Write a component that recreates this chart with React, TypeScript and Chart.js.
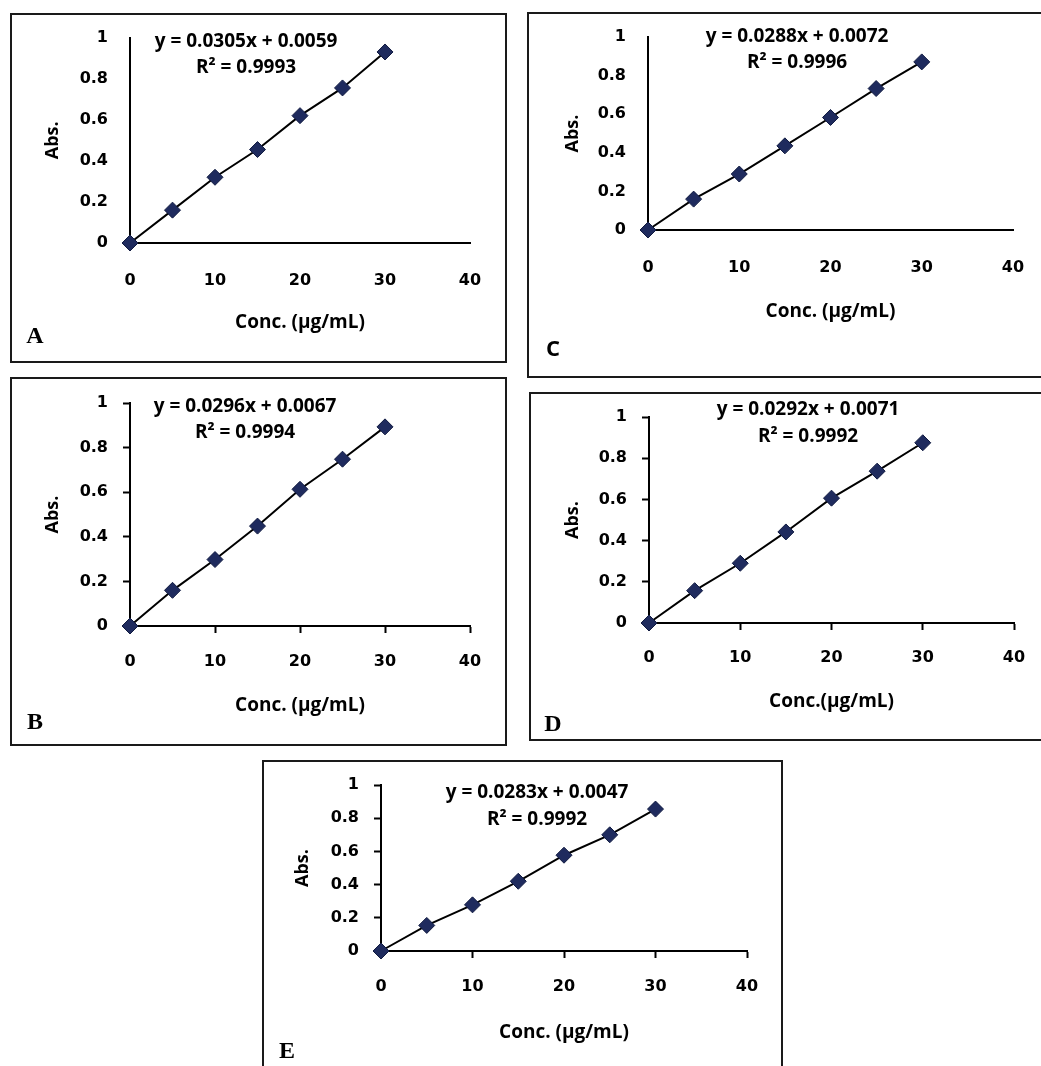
import React, { useEffect, useRef } from 'react';
import { Chart, registerables } from 'chart.js';

Chart.register(...registerables);

// ---------- data ----------
const concentrations = [0, 5, 10, 15, 20, 25, 30];
const absA = [0, 0.16, 0.32, 0.455, 0.62, 0.755, 0.93];
const absB = [0, 0.16, 0.298, 0.448, 0.613, 0.748, 0.893];
const absC = [0, 0.16, 0.29, 0.436, 0.583, 0.733, 0.871];
const absD = [0, 0.157, 0.29, 0.442, 0.606, 0.737, 0.875];
const absE = [0, 0.154, 0.278, 0.42, 0.577, 0.7, 0.855];

const panelLetters = ['A', 'B', 'C', 'D', 'E'];
const equations = [
  'y = 0.0305x + 0.0059',
  'y = 0.0296x + 0.0067',
  'y = 0.0288x + 0.0072',
  'y = 0.0292x + 0.0071',
  'y = 0.0283x + 0.0047',
];
const r2Labels = ['R² = 0.9993', 'R² = 0.9994', 'R² = 0.9996', 'R² = 0.9992', 'R² = 0.9992'];
const xTitle = 'Conc. (µg/mL)';
const xTitleD = 'Conc.(µg/mL)';
const yTitle = 'Abs.';
const xMin = 0, xMax = 40, xStep = 10;
const yMin = 0, yMax = 1, yStep = 0.2;

const FONT = '"Open Sans", "Noto Sans", sans-serif';
const TICK_FONT = '"DejaVu Sans", sans-serif';

type Layout = {
  left: number; top: number; width: number; height: number;
  aL: number; aT: number; aR: number; aB: number;
  xLabelGap: number; xTitleFromBottom: number; yTitleX: number;
  eqX: number; eqY: number; r2Y: number;
  letterX: number; letterY: number; letterSerif: boolean; ticks: boolean;
};

// page geometry of each panel (frame box and plot area, canvas-relative)
const layouts: Layout[] = [
  { left: 10, top: 13, width: 497, height: 350, aL: 120, aT: 24, aR: 460, aB: 230,
    xLabelGap: 38, xTitleFromBottom: 40, yTitleX: 43, eqX: 236, eqY: 29, r2Y: 55,
    letterX: 25, letterY: 324, letterSerif: true, ticks: false },
  { left: 10, top: 377, width: 497, height: 369, aL: 120, aT: 26, aR: 460, aB: 249,
    xLabelGap: 36, xTitleFromBottom: 40, yTitleX: 43, eqX: 235, eqY: 30, r2Y: 56,
    letterX: 25, letterY: 346, letterSerif: true, ticks: true },
  { left: 527, top: 12, width: 519, height: 366, aL: 121, aT: 25, aR: 486, aB: 218,
    xLabelGap: 38, xTitleFromBottom: 66, yTitleX: 46, eqX: 270, eqY: 25, r2Y: 51,
    letterX: 26, letterY: 338, letterSerif: false, ticks: false },
  { left: 529, top: 392, width: 517, height: 349, aL: 120, aT: 25, aR: 485, aB: 231,
    xLabelGap: 35, xTitleFromBottom: 39, yTitleX: 44, eqX: 279, eqY: 18, r2Y: 45,
    letterX: 24, letterY: 333, letterSerif: true, ticks: true },
  { left: 262, top: 760, width: 521, height: 315, aL: 119, aT: 25, aR: 485, aB: 191,
    xLabelGap: 36, xTitleFromBottom: 42, yTitleX: 41, eqX: 275, eqY: 33, r2Y: 60,
    letterX: 25, letterY: 292, letterSerif: true, ticks: true },
];

const seriesList = [absA, absB, absC, absD, absE];

function Panel({ idx }: { idx: number }) {
  const ref = useRef<HTMLCanvasElement | null>(null);
  useEffect(() => {
    const L = layouts[idx];
    const values = seriesList[idx];
    const tickFont = 16;
    const titleFont = 19;
    const titleLH = titleFont * 1.2;
    const tickLH = tickFont * 1.2;
    const tickLen = 7;
    const tickColor = L.ticks ? '#000' : 'rgba(0,0,0,0)';
    const decor = {
      id: 'decor',
      afterDraw(chart: any) {
        const ctx = chart.ctx;
        ctx.save();
        ctx.strokeStyle = '#1a1a1a';
        ctx.lineWidth = 2;
        ctx.strokeRect(1, 1, chart.width - 2, chart.height - 2);
        ctx.fillStyle = '#000';
        ctx.textAlign = 'center';
        ctx.textBaseline = 'middle';
        ctx.font = `bold 19px ${FONT}`;
        ctx.fillText(equations[idx], L.eqX, L.eqY);
        ctx.fillText(r2Labels[idx], L.eqX, L.r2Y);
        ctx.font = L.letterSerif ? 'bold 24px "Liberation Serif", serif' : `bold 22px ${FONT}`;
        ctx.fillText(panelLetters[idx], L.letterX, L.letterY);
        ctx.restore();
      },
    };
    const chart = new Chart(ref.current as HTMLCanvasElement, {
      type: 'scatter',
      data: {
        datasets: [
          {
            data: concentrations.map((x, i) => ({ x, y: values[i] })),
            showLine: true,
            borderColor: '#000',
            borderWidth: 2,
            pointStyle: 'rectRot',
            pointRadius: 8,
            pointBackgroundColor: '#1f2b5e',
            pointBorderColor: '#101a40',
            pointBorderWidth: 1,
            clip: false,
          } as any,
        ],
      },
      options: {
        animation: false,
        responsive: false,
        events: [],
        layout: { padding: { left: 0, top: L.aT, right: L.width - L.aR, bottom: 0 } },
        plugins: { legend: { display: false }, tooltip: { enabled: false } },
        scales: {
          x: {
            type: 'linear',
            min: xMin,
            max: xMax,
            afterFit: (s: any) => { s.height = L.height - L.aB; },
            ticks: {
              stepSize: xStep,
              autoSkip: false,
              maxRotation: 0,
              color: '#000',
              font: { family: TICK_FONT, size: tickFont, weight: 'bold' },
              padding: L.xLabelGap - tickLen - tickLH / 2,
            },
            grid: { display: true, drawOnChartArea: false, drawTicks: true, tickLength: tickLen, tickColor, tickWidth: 2, color: tickColor },
            border: { display: true, color: '#000', width: 2 },
            title: {
              display: true,
              text: idx === 3 ? xTitleD : xTitle,
              color: '#000',
              font: { family: FONT, size: titleFont, weight: 'bold' },
              padding: { top: 0, bottom: L.xTitleFromBottom - titleLH / 2 },
            },
          },
          y: {
            type: 'linear',
            min: yMin,
            max: yMax,
            afterFit: (s: any) => { s.width = L.aL; },
            ticks: {
              stepSize: yStep,
              color: '#000',
              font: { family: TICK_FONT, size: tickFont, weight: 'bold' },
              padding: 15,
              callback: (v: any) => String(Math.round(Number(v) * 10) / 10),
            },
            grid: { display: true, drawOnChartArea: false, drawTicks: true, tickLength: tickLen, tickColor, tickWidth: 2, color: tickColor },
            border: { display: true, color: '#000', width: 2 },
            title: {
              display: true,
              text: yTitle,
              color: '#000',
              font: { family: FONT, size: 18, weight: 'bold' },
              padding: { top: L.yTitleX - 18 * 1.2 / 2, bottom: 0 },
            },
          },
        },
      } as any,
      plugins: [decor],
    });
    return () => chart.destroy();
  }, [idx]);
  const L = layouts[idx];
  return (
    <canvas
      ref={ref}
      width={L.width}
      height={L.height}
      style={{ position: 'absolute', left: L.left, top: L.top, width: L.width, height: L.height }}
    />
  );
}

export default function App() {
  return (
    <div
      style={{
        position: 'absolute',
        left: 0,
        top: 0,
        width: 1041,
        height: 1066,
        overflow: 'hidden',
        background: '#fff',
      }}
    >
      {layouts.map((_, i) => (
        <Panel key={i} idx={i} />
      ))}
    </div>
  );
}
